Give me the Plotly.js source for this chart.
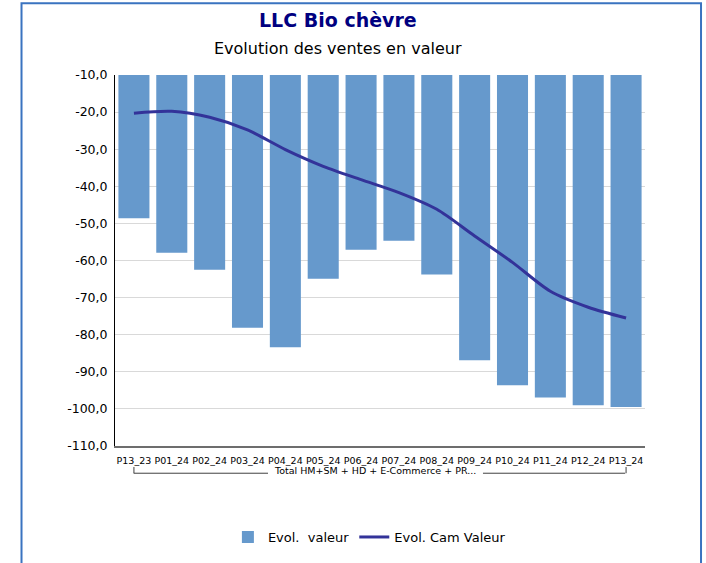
<!DOCTYPE html>
<html><head><meta charset="utf-8">
<script src="https://cdn.plot.ly/plotly-3.0.1.min.js"></script>
<style>html,body{margin:0;padding:0;background:#fff;}#chart{width:706px;height:563px;}</style>
</head><body><div id="chart"></div>
<script>
const categories = ['P13_23','P01_24','P02_24','P03_24','P04_24','P05_24','P06_24','P07_24','P08_24','P09_24','P10_24','P11_24','P12_24','P13_24'];
const groupLabel = 'Total HM+SM + HD + E-Commerce + PR...';
const evolValeur = [-48.6,-57.9,-62.5,-78.1,-83.4,-64.9,-57.1,-54.7,-63.8,-86.9,-93.6,-96.9,-99.0,-99.5];
const evolCamValeur = [-20.3,-19.8,-21.4,-24.8,-30.1,-34.6,-38.2,-41.7,-46.2,-53.4,-60.5,-68.3,-72.6,-75.5];
const seriesNames = ['Evol.\u00a0\u00a0valeur','Evol. Cam Valeur'];
const yTickValues = [-10,-20,-30,-40,-50,-60,-70,-80,-90,-100,-110];
const yTickLabels = ['-10,0','-20,0','-30,0','-40,0','-50,0','-60,0','-70,0','-80,0','-90,0','-100,0','-110,0'];
const chartTitle = 'LLC Bio chèvre';
const chartSubtitle = 'Evolution des ventes en valeur';

const FONT = "Tahoma, 'DejaVu Sans', Verdana, sans-serif";

const traces = [
  {type:'bar', x:categories, y:evolValeur, name:seriesNames[0],
   marker:{color:'#6699CC'}, hoverinfo:'skip'},
  {type:'scatter', mode:'lines', x:categories, y:evolCamValeur, name:seriesNames[1],
   line:{color:'#333399', width:3, shape:'spline', smoothing:0.8}, hoverinfo:'skip'}
];

const first = categories[0], last = categories[categories.length-1];
const bracketY = -0.0734, bracketTop = -0.0565;
const layout = {
  width:706, height:563,
  margin:{l:115, r:61, t:75, b:116},
  paper_bgcolor:'#fff', plot_bgcolor:'#fff',
  font:{family:FONT, color:'#000'},
  bargap:0.18,
  showlegend:true,
  legend:{orientation:'h', x:0.48, xanchor:'center', y:-0.242, yanchor:'middle',
          font:{family:FONT, size:13, color:'#000'}, traceorder:'normal'},
  xaxis:{type:'category', showgrid:false, showline:true, linecolor:'#6d6d6d', linewidth:2,
         ticks:'', tickfont:{family:FONT, size:9.5, color:'#000'}, tickangle:0,
         ticklabelstandoff:5, fixedrange:true},
  yaxis:{range:[-110,-10], tickmode:'array', tickvals:yTickValues, ticktext:yTickLabels,
         showline:true, linecolor:'#000', linewidth:1,
         gridcolor:'#d9d9d9', gridwidth:1, zeroline:false, ticks:'',
         tickfont:{family:FONT, size:12.5, color:'#000'}, ticklabelstandoff:4, fixedrange:true},
  annotations:[
    {text:'<b>'+chartTitle+'</b>', xref:'paper', yref:'paper', x:0.4208, y:1.148, xanchor:'center', yanchor:'middle',
     showarrow:false, font:{family:FONT, size:19, color:'#000080'}},
    {text:chartSubtitle, xref:'paper', yref:'paper', x:0.4208, y:1.0726, xanchor:'center', yanchor:'middle',
     showarrow:false, font:{family:FONT, size:16, color:'#000'}},
    {text:groupLabel, xref:'paper', yref:'paper', x:0.4915, y:-0.0665, xanchor:'center', yanchor:'middle',
     showarrow:false, font:{family:FONT, size:9.5, color:'#000'}}
  ],
  shapes:[
    {type:'rect', xref:'paper', yref:'paper', x0:-0.1764, x1:1.1057, y0:-0.6, y1:1.1935,
     line:{color:'#3a73c0', width:2}, fillcolor:'rgba(0,0,0,0)', layer:'below'},
    {type:'line', xref:'paper', yref:'paper', x0:0.0353, x1:0.2887, y0:bracketY, y1:bracketY, line:{color:'#404040', width:1}},
    {type:'line', xref:'paper', yref:'paper', x0:0.6943, x1:0.9626, y0:bracketY, y1:bracketY, line:{color:'#404040', width:1}},
    {type:'line', xref:'x', yref:'paper', x0:first, x1:first, y0:bracketTop, y1:bracketY, line:{color:'#404040', width:1}},
    {type:'line', xref:'x', yref:'paper', x0:last, x1:last, y0:bracketTop, y1:bracketY, line:{color:'#404040', width:1}}
  ]
};

Plotly.newPlot('chart', traces, layout, {displayModeBar:false, staticPlot:true});
</script>
</body></html>
